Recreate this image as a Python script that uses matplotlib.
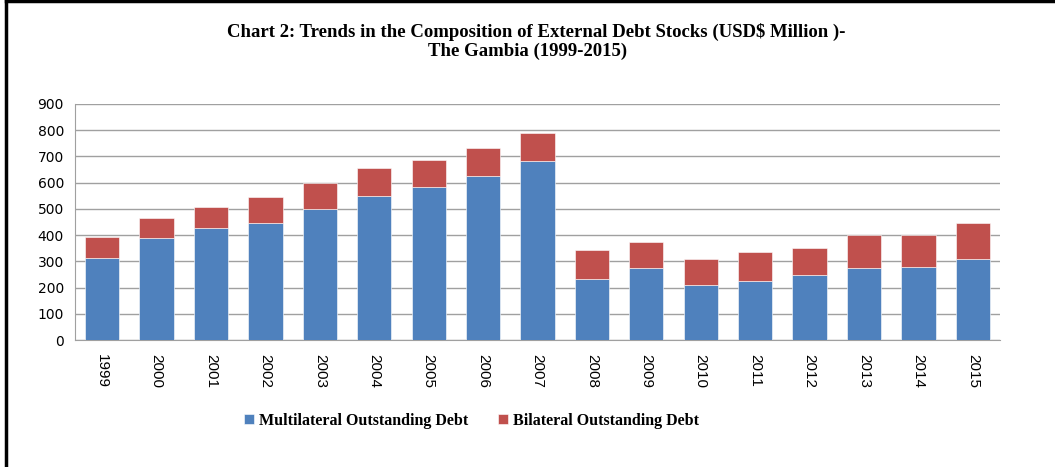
import matplotlib
matplotlib.use("Agg")
import matplotlib.pyplot as plt
from matplotlib.lines import Line2D
import numpy as np

years = ["1999", "2000", "2001", "2002", "2003", "2004", "2005", "2006", "2007",
         "2008", "2009", "2010", "2011", "2012", "2013", "2014", "2015"]
multilateral = [314, 388, 426, 447, 500, 548, 583, 627, 681,
                233, 273, 208, 225, 247, 276, 278, 308]
total = [393, 466, 507, 544, 599, 656, 686, 732, 789,
         342, 374, 310, 336, 352, 399, 400, 447]
bilateral = [t - m for t, m in zip(total, multilateral)]

blue = "#4F81BD"
red = "#C0504D"

fig = plt.figure(figsize=(10.55, 4.67), dpi=100)
ax = fig.add_axes([75 / 1055, 1 - 340 / 467, 925 / 1055, 236 / 467])

x = np.arange(len(years))
ax.bar(x, multilateral, width=0.63, color=blue, edgecolor="white", linewidth=0.4,
       label="Multilateral Outstanding Debt", zorder=3)
ax.bar(x, bilateral, width=0.63, bottom=multilateral, color=red, edgecolor="white",
       linewidth=0.4, label="Bilateral Outstanding Debt", zorder=3)

ax.set_xlim(-0.5, len(years) - 0.5)
ax.set_ylim(0, 900)
ax.set_yticks(range(0, 901, 100))
ax.yaxis.grid(True, color="#A0A0A0", linewidth=1.0, zorder=0)
ax.set_xticks(x)
ax.set_xticklabels(years, rotation=270, family="Liberation Sans", fontsize=11)
for lab in ax.get_yticklabels():
    lab.set_family("DejaVu Sans")
    lab.set_fontsize(10)
ax.tick_params(axis="both", length=0, pad=8, colors="black")
ax.tick_params(axis="x", pad=10)
for s in ["top", "right"]:
    ax.spines[s].set_visible(False)
ax.spines["left"].set_color("#A0A0A0")
ax.spines["bottom"].set_color("#A0A0A0")

fig.text(0.508, 1 - 32 / 467,
         "Chart 2: Trends in the Composition of External Debt Stocks (USD$ Million )-",
         ha="center", va="center", family="Liberation Serif", fontweight="bold",
         fontsize=13.5)
fig.text(0.500, 1 - 51 / 467, "The Gambia (1999-2015)",
         ha="center", va="center", family="Liberation Serif", fontweight="bold",
         fontsize=13.5)

fig.legend(loc="center", bbox_to_anchor=(0.447, 1 - 421 / 467), ncol=2,
           frameon=False, prop={"family": "Liberation Serif", "weight": "bold", "size": 11.5},
           handlelength=0.6, handleheight=0.6, handletextpad=0.3, columnspacing=1.9)

# page frame
fig.add_artist(Line2D([6 / 1055, 6 / 1055], [0, 1 - 1 / 467], transform=fig.transFigure,
                      color="black", linewidth=2.5))
fig.add_artist(Line2D([6 / 1055, 1], [1 - 1 / 467, 1 - 1 / 467], transform=fig.transFigure,
                      color="black", linewidth=2.5))

fig.savefig("out.png", dpi=100)
